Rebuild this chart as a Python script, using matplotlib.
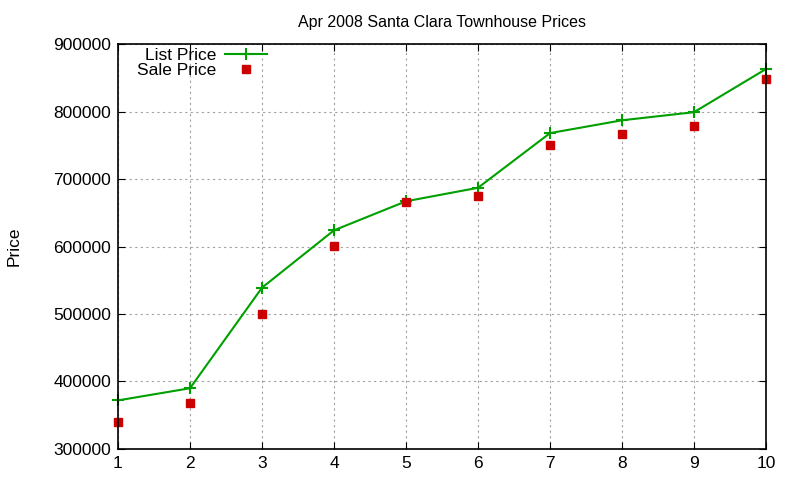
import matplotlib
matplotlib.use("Agg")
import matplotlib.pyplot as plt

days = [1, 2, 3, 4, 5, 6, 7, 8, 9, 10]
list_price = [372000, 390000, 539000, 624000, 667000, 687000, 768000, 787000, 799000, 863000]
sale_price = [340000, 368000, 500000, 601000, 666000, 675000, 750000, 767000, 778000, 848000]
y_ticks = [300000, 400000, 500000, 600000, 700000, 800000, 900000]

plt.rcParams['font.family'] = ['Liberation Sans', 'DejaVu Sans']

fig = plt.figure(figsize=(8, 4.8), dpi=100)
ax = fig.add_axes([0.1475, 0.0646, 0.81, 0.8437])

ax.plot(days, list_price, color='#00a000', linewidth=1.5, marker='+',
        markersize=8, markeredgewidth=1.5, label='List Price', clip_on=False)
ax.plot(days, sale_price, linestyle='none', color='#cc0000', marker='s',
        markersize=6, label='Sale Price', clip_on=False)

ax.set_xlim(1, 10)
ax.set_ylim(300000, 900000)
ax.set_xticks(days)
ax.set_yticks(y_ticks)
ax.tick_params(direction='in', top=True, right=True, labelsize=12.5, length=5, pad=5)
ax.grid(True, color='#a0a0a0', linestyle=(0, (2, 3)), linewidth=0.8)
ax.set_axisbelow(True)
for s in ax.spines.values():
    s.set_linewidth(1.2)

ax.set_title('Apr 2008 Santa Clara Townhouse Prices', fontsize=11.5, pad=12)
ax.set_ylabel('Price', fontsize=12.5, labelpad=23)

ax.legend(loc='upper left', bbox_to_anchor=(0.014, 1.017), frameon=False,
          markerfirst=False, fontsize=12.5, handlelength=2.4, handletextpad=0.5,
          labelspacing=0.0, borderaxespad=0.2)

fig.savefig('out.png', dpi=100)
